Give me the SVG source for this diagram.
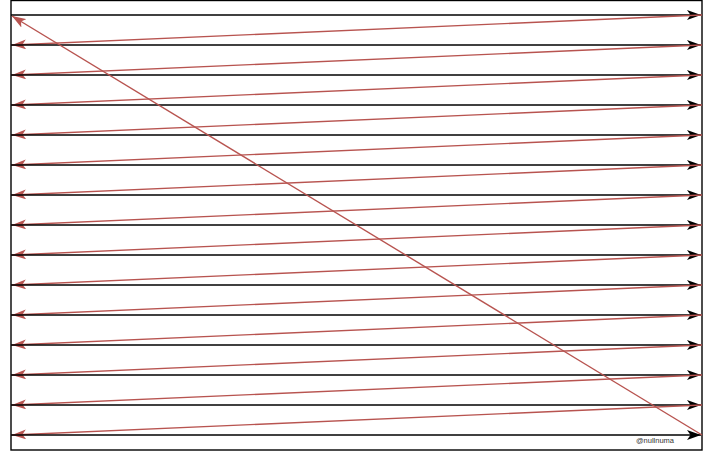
<svg xmlns="http://www.w3.org/2000/svg" width="716" height="452" viewBox="0 0 716 452">
<defs>
<marker id="ab" viewBox="0 0 14 10" refX="14" refY="5" markerWidth="14" markerHeight="10" markerUnits="userSpaceOnUse" orient="auto"><path d="M0,0 L14,5 L0,10 L3.5,5 Z" fill="#000"/></marker>
<marker id="ar" viewBox="0 0 14 10" refX="14" refY="5" markerWidth="14" markerHeight="10" markerUnits="userSpaceOnUse" orient="auto"><path d="M0,0 L14,5 L0,10 L3.5,5 Z" fill="#b85450"/></marker>
<style>
.b{stroke:#000;stroke-width:1.4;fill:none;marker-end:url(#ab)}
.r{stroke:#b85450;stroke-width:1.4;fill:none;marker-end:url(#ar)}
.t{font-family:"Liberation Sans",Arial,sans-serif;font-size:7.5px;fill:#333}
</style>
</defs>
<rect width="716" height="452" fill="#fff"/>
<g id="frame"><rect x="11" y="0.5" width="691" height="449.5" fill="#fff" stroke="#000" stroke-width="1.4"/></g>
<g id="connectors">
<line class="b" x1="11" y1="15" x2="701" y2="15"/>
<line class="r" x1="702" y1="15" x2="12" y2="45"/>
<line class="b" x1="11" y1="45" x2="701" y2="45"/>
<line class="r" x1="702" y1="45" x2="12" y2="75"/>
<line class="b" x1="11" y1="75" x2="701" y2="75"/>
<line class="r" x1="702" y1="75" x2="12" y2="105"/>
<line class="b" x1="11" y1="105" x2="701" y2="105"/>
<line class="r" x1="702" y1="105" x2="12" y2="135"/>
<line class="b" x1="11" y1="135" x2="701" y2="135"/>
<line class="r" x1="702" y1="135" x2="12" y2="165"/>
<line class="b" x1="11" y1="165" x2="701" y2="165"/>
<line class="r" x1="702" y1="165" x2="12" y2="195"/>
<line class="b" x1="11" y1="195" x2="701" y2="195"/>
<line class="r" x1="702" y1="195" x2="12" y2="225"/>
<line class="b" x1="11" y1="225" x2="701" y2="225"/>
<line class="r" x1="702" y1="225" x2="12" y2="255"/>
<line class="b" x1="11" y1="255" x2="701" y2="255"/>
<line class="r" x1="702" y1="255" x2="12" y2="285"/>
<line class="b" x1="11" y1="285" x2="701" y2="285"/>
<line class="r" x1="702" y1="285" x2="12" y2="315"/>
<line class="b" x1="11" y1="315" x2="701" y2="315"/>
<line class="r" x1="702" y1="315" x2="12" y2="345"/>
<line class="b" x1="11" y1="345" x2="701" y2="345"/>
<line class="r" x1="702" y1="345" x2="12" y2="375"/>
<line class="b" x1="11" y1="375" x2="701" y2="375"/>
<line class="r" x1="702" y1="375" x2="12" y2="405"/>
<line class="b" x1="11" y1="405" x2="701" y2="405"/>
<line class="r" x1="702" y1="405" x2="12" y2="435"/>
<line class="b" x1="11" y1="435" x2="701" y2="435"/>
<line class="r" x1="702" y1="435" x2="12" y2="16"/>
</g>
<g id="label"><text class="t" x="655" y="443" text-anchor="middle">@nullnuma</text></g>
</svg>
